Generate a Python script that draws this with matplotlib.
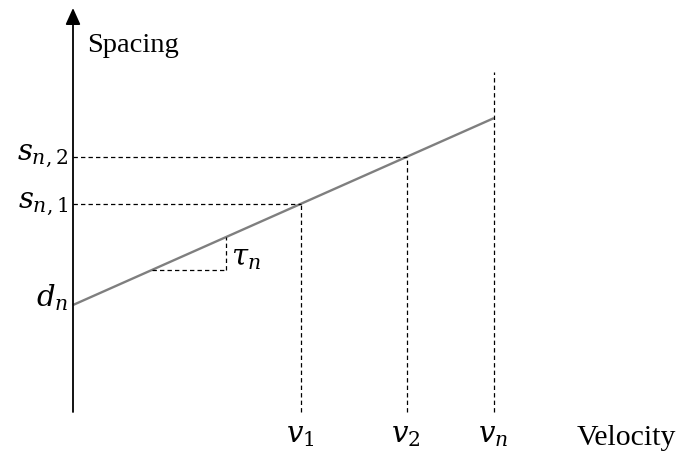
import matplotlib
matplotlib.use("Agg")
import matplotlib.pyplot as plt
import numpy as np

# data (arbitrary units)
velocities = [2.28, 3.34, 4.21]          # v1, v2, vn
vel_labels = [r"$v_1$", r"$v_2$", r"$v_n$"]
d_n = 1.07                                # spacing at zero velocity
tau_n = 0.444                             # slope (time gap)
spacing_labels = [r"$s_{n,1}$", r"$s_{n,2}$"]
tri_x = [0.79, 1.53]                      # slope triangle x-range

plt.rcParams["mathtext.fontset"] = "dejavuserif"
plt.rcParams["font.family"] = ["Liberation Serif", "DejaVu Serif"]

fig = plt.figure(figsize=(6.82, 4.53), dpi=100)
ax = fig.add_axes([0, 0, 1, 1])
ax.set_xlim(-0.73, 6.09)
ax.set_ylim(-0.41, 4.12)
ax.axis("off")

# axes arrows
ax.annotate("", xy=(6.14, 0), xytext=(0, 0),
            arrowprops=dict(arrowstyle="-|>,head_length=1.0,head_width=0.45", color="black", lw=1.3,
                            shrinkA=0, shrinkB=0))
ax.annotate("", xy=(0, 4.04), xytext=(0, 0),
            arrowprops=dict(arrowstyle="-|>,head_length=1.0,head_width=0.45", color="black", lw=1.3,
                            shrinkA=0, shrinkB=0))

# main line
vn = velocities[2]
xs = np.array([0, vn])
ax.plot(xs, d_n + tau_n * xs, color="#7f7f7f", lw=1.7, solid_capstyle="butt")

dash = dict(color="black", lw=0.9, ls=(0, (3.5, 2.5)))
# points v1, v2
for v, sl in zip(velocities[:2], spacing_labels):
    s = d_n + tau_n * v
    ax.plot([0, v], [s, s], **dash)
    ax.plot([v, v], [0, s], **dash)
    ax.text(-0.05, s, sl, ha="right", va="center", fontsize=21)
# vn vertical
ax.plot([vn, vn], [0, 3.4], **dash)

# velocity labels
for v, lab in zip(velocities, vel_labels):
    ax.text(v - 0.01, -0.24, lab, ha="center", va="center", fontsize=21)

# d_n label
ax.text(-0.05, d_n + 0.07, r"$d_n$", ha="right", va="center", fontsize=21)

# slope triangle
y0 = d_n + tau_n * tri_x[0]
y1 = d_n + tau_n * tri_x[1]
ax.plot([tri_x[0], tri_x[1]], [y0, y0], **dash)
ax.plot([tri_x[1], tri_x[1]], [y0, y1], **dash)
ax.text(tri_x[1] + 0.05, (y0 + y1) / 2 - 0.06, r"$\tau_n$", ha="left", va="center", fontsize=21)

ax.text(0.14, 3.66, "Spacing", ha="left", va="center", fontsize=20.5)
ax.text(6.03, -0.26, "Velocity", ha="right", va="center", fontsize=21.5)

fig.savefig("out.png", dpi=100)
